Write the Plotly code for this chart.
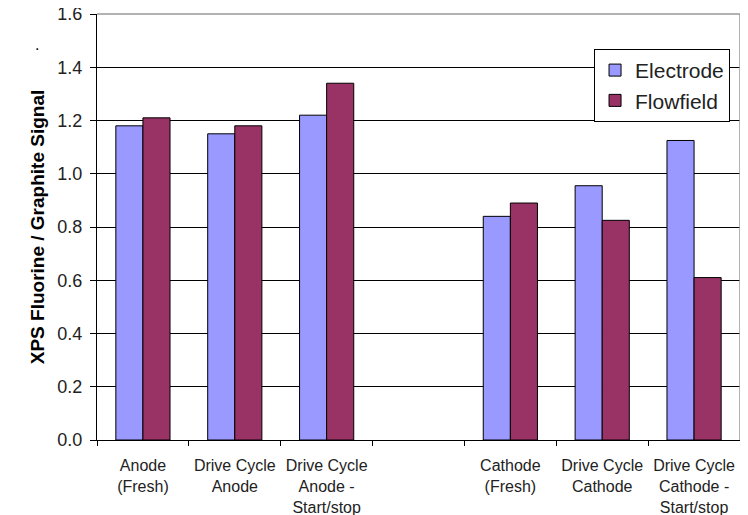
import plotly.graph_objects as go

categories = ["Anode<br>(Fresh)", "Drive Cycle<br>Anode", "Drive Cycle<br>Anode -<br>Start/stop", " ",
              "Cathode<br>(Fresh)", "Drive Cycle<br>Cathode", "Drive Cycle<br>Cathode -<br>Start/stop"]
electrode = [1.18, 1.15, 1.22, None, 0.84, 0.955, 1.125]
flowfield = [1.21, 1.18, 1.34, None, 0.89, 0.825, 0.61]

fig = go.Figure()
fig.add_trace(go.Bar(x=categories, y=electrode, name="Electrode",
                     marker=dict(color="#9999FF", line=dict(color="black", width=1))))
fig.add_trace(go.Bar(x=categories, y=flowfield, name="Flowfield",
                     marker=dict(color="#993366", line=dict(color="black", width=1))))

fig.update_layout(
    width=748, height=515,
    margin=dict(l=89, r=16, t=6, b=83, autoexpand=False),
    plot_bgcolor="white", paper_bgcolor="white",
    barmode="group", bargap=0.41, bargroupgap=0,
    font=dict(family="Liberation Sans, Arial", color="black"),
    legend=dict(x=0.773, y=0.918, xanchor="left", yanchor="top",
                bordercolor="black", borderwidth=1, bgcolor="white",
                font=dict(size=21, color="#222"), tracegroupgap=0),
    xaxis=dict(type="category", categoryorder="array", categoryarray=categories,
               tickson="boundaries", ticks="outside", ticklen=5, tickcolor="black",
               showline=True, linecolor="black", linewidth=1, automargin=False,
               tickfont=dict(size=16, color="#222"), ticklabelstandoff=11, showgrid=False),
    yaxis=dict(range=[0, 1.6], dtick=0.2, tickformat=".1f",
               ticks="outside", ticklen=6, tickcolor="black", automargin=False,
               showline=True, linecolor="black", linewidth=1,
               showgrid=True, gridcolor="black", gridwidth=1, zeroline=False,
               tickfont=dict(size=18, color="#222"), ticklabelstandoff=4,
               ticklabeloverflow="allow",
               title=dict(text="<b>XPS Fluorine / Graphite Signal</b>", font=dict(size=19), standoff=7)),
    shapes=[dict(type="line", xref="paper", yref="paper", x0=0, x1=1, y0=1, y1=1,
                 line=dict(color="#999999", width=1.5), layer="above"),
            dict(type="line", xref="paper", yref="paper", x0=1, x1=1, y0=0, y1=1,
                 line=dict(color="#999999", width=1.5), layer="above")],
    annotations=[dict(text=".", xref="paper", yref="paper", x=-0.0995, y=0.954,
                      showarrow=False, font=dict(size=16))],
)

fig.write_html("out.html")
